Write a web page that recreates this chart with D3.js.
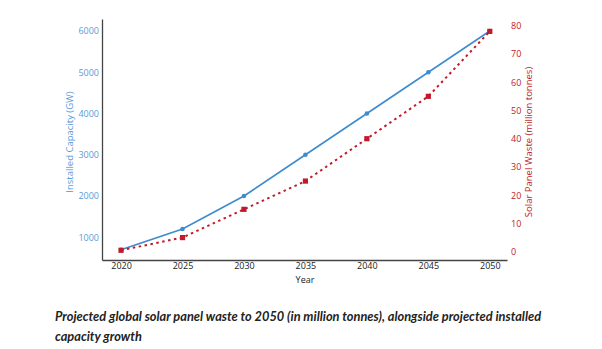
<!DOCTYPE html>
<html>
<head>
<meta charset="utf-8">
<script src="https://cdn.jsdelivr.net/npm/d3@7"></script>
<style>
  body { margin: 0; background: #fff; }
  svg { display: block; }
</style>
</head>
<body>
<div id="chart"></div>
<script>
const years = [2020, 2025, 2030, 2035, 2040, 2045, 2050];
const capacity = [700, 1200, 2000, 3000, 4000, 5000, 6000];
const waste = [0.5, 5, 15, 25, 40, 55, 78];
const capacityTicks = [1000, 2000, 3000, 4000, 5000, 6000];
const wasteTicks = [0, 10, 20, 30, 40, 50, 60, 70, 80];
const caption = [
  "Projected global solar panel waste to 2050 (in million tonnes), alongside projected installed",
  "capacity growth"
];

const width = 602, height = 349;
const blue = "#3d8bd0", blueText = "#5b9bd8", red = "#c01a2c";

const svg = d3.select("#chart").append("svg")
  .attr("width", width)
  .attr("height", height);

const x = d3.scaleLinear().domain([2018.45, 2051.4]).range([102, 507]);
const yL = d3.scaleLinear().domain([450, 6290]).range([260, 19]);
const yR = d3.scaleLinear().domain([0, 80]).range([251.7, 25.7]);

const font = "'Open Sans', sans-serif";

// bottom axis
const xAxis = svg.append("g")
  .attr("transform", "translate(0,260)")
  .call(d3.axisBottom(x).tickValues(years).tickFormat(d3.format("d")).tickSize(0).tickPadding(3));
xAxis.select(".domain").attr("stroke", "#444").attr("stroke-width", 1.3);
xAxis.selectAll("text").attr("font-family", font).attr("font-size", 9).attr("fill", "#222");

// left axis
const lAxis = svg.append("g")
  .attr("transform", "translate(102,0)")
  .call(d3.axisLeft(yL).tickValues(capacityTicks).tickFormat(d3.format("d")).tickSize(0).tickPadding(3));
lAxis.select(".domain").attr("stroke", "#444").attr("stroke-width", 1.3);
lAxis.selectAll("text").attr("font-family", font).attr("font-size", 9).attr("fill", blueText);

// right axis (labels only)
const rAxis = svg.append("g")
  .attr("transform", "translate(508,0)")
  .call(d3.axisRight(yR).tickValues(wasteTicks).tickSize(0).tickPadding(3));
rAxis.select(".domain").remove();
rAxis.selectAll("text").attr("font-family", font).attr("font-size", 9).attr("fill", red);

// axis titles
svg.append("text")
  .attr("transform", "translate(73,142) rotate(-90)")
  .attr("text-anchor", "middle")
  .attr("font-family", font).attr("font-size", 9.5)
  .attr("fill", blueText)
  .text("Installed Capacity (GW)");

svg.append("text")
  .attr("transform", "translate(532,142) rotate(-90)")
  .attr("text-anchor", "middle")
  .attr("font-family", font).attr("font-size", 9.5)
  .attr("fill", red)
  .text("Solar Panel Waste (million tonnes)");

svg.append("text")
  .attr("x", 305).attr("y", 283)
  .attr("text-anchor", "middle")
  .attr("font-family", font).attr("font-size", 9)
  .attr("fill", "#222")
  .text("Year");

// capacity line
const capData = years.map((y, i) => ({ year: y, v: capacity[i] }));
const wasteData = years.map((y, i) => ({ year: y, v: waste[i] }));

svg.append("path")
  .datum(capData)
  .attr("fill", "none")
  .attr("stroke", blue)
  .attr("stroke-width", 1.6)
  .attr("d", d3.line().x(d => x(d.year)).y(d => yL(d.v)));

svg.selectAll(".cap-pt")
  .data(capData)
  .enter()
  .append("circle")
  .attr("class", "cap-pt")
  .attr("cx", d => x(d.year))
  .attr("cy", d => yL(d.v))
  .attr("r", 2.3)
  .attr("fill", blue);

// waste line
svg.append("path")
  .datum(wasteData)
  .attr("fill", "none")
  .attr("stroke", red)
  .attr("stroke-width", 2)
  .attr("stroke-dasharray", "2.5,3.5")
  .attr("d", d3.line().x(d => x(d.year)).y(d => yR(d.v)));

svg.selectAll(".waste-pt")
  .data(wasteData)
  .enter()
  .append("rect")
  .attr("class", "waste-pt")
  .attr("x", d => x(d.year) - 2.6)
  .attr("y", d => yR(d.v) - 2.6)
  .attr("width", 5.2)
  .attr("height", 5.2)
  .attr("fill", red);

// caption
svg.selectAll(".caption")
  .data(caption)
  .enter()
  .append("text")
  .attr("class", "caption")
  .attr("x", 55)
  .attr("y", (d, i) => 321 + i * 20)
  .attr("font-family", "Lato, sans-serif")
  .attr("font-style", "italic")
  .attr("font-weight", "bold")
  .attr("font-size", 12.8)
  .attr("fill", "#222")
  .text(d => d);
</script>
</body>
</html>
